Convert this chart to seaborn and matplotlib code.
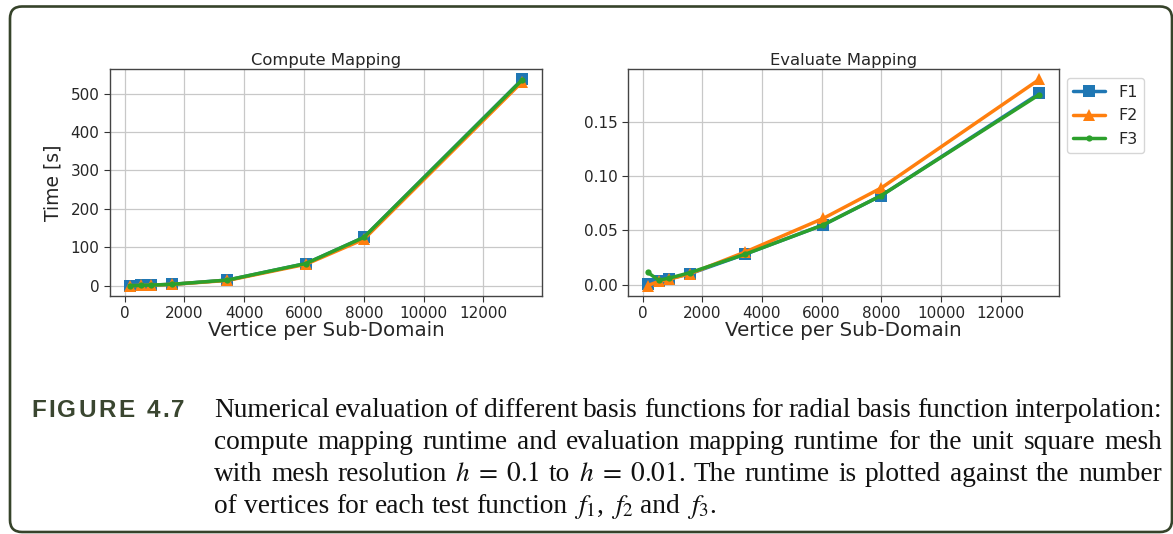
import numpy as np
import pandas as pd
import matplotlib
matplotlib.use("Agg")
import matplotlib.pyplot as plt
from matplotlib.patches import FancyBboxPatch
from matplotlib.transforms import IdentityTransform
import seaborn as sns

# ---- data ----
vertices = [169, 540, 900, 1590, 3440, 6060, 8000, 13300]
series = ["F1", "F2", "F3"]
compute_f1 = [0.5, 1.0, 2.0, 4.0, 15.0, 58.0, 126.0, 537.0]
compute_f2 = [0.4, 0.9, 1.8, 3.8, 14.0, 56.0, 121.0, 531.0]
compute_f3 = [0.5, 1.0, 2.0, 4.0, 15.0, 58.0, 126.0, 536.0]
eval_f1 = [0.0005, 0.0037, 0.0055, 0.0100, 0.0280, 0.0550, 0.0820, 0.1760]
eval_f2 = [-0.0010, 0.0030, 0.0050, 0.0100, 0.0300, 0.0610, 0.0890, 0.1890]
eval_f3 = [0.0114, 0.0040, 0.0060, 0.0110, 0.0280, 0.0550, 0.0820, 0.1750]

titles = ["Compute Mapping", "Evaluate Mapping"]
xlabel = "Vertice per Sub-Domain"
ylabel = "Time [s]"
caption_head = "FIGURE 4.7"
caption_lines = [
    r"Numerical evaluation of different basis functions for radial basis function interpolation:",
    r"compute mapping runtime and evaluation mapping runtime for the unit square mesh",
    r"with mesh resolution $h\;=\;0.1$ to $h\;=\;0.01$. The runtime is plotted against the number",
    r"of vertices for each test function $f_1$, $f_2$ and $f_3$.",
]

def long_df(a, b, c):
    rows = []
    for name, vals in zip(series, [a, b, c]):
        for x, y in zip(vertices, vals):
            rows.append({"x": x, "y": y, "series": name})
    return pd.DataFrame(rows)

df_c = long_df(compute_f1, compute_f2, compute_f3)
df_e = long_df(eval_f1, eval_f2, eval_f3)

sns.set_style("ticks")
plt.rcParams["font.family"] = ["DejaVu Sans"]
plt.rcParams["mathtext.fontset"] = "stix"

W, H = 1173, 534
fig = plt.figure(figsize=(W / 100, H / 100), dpi=100)

def px_axes(x0, y0, x1, y1):
    return fig.add_axes([x0 / W, 1 - y1 / H, (x1 - x0) / W, (y1 - y0) / H])

ax1 = px_axes(110, 69, 542, 296)
ax2 = px_axes(628, 69, 1059, 296)

palette = {"F1": "#1f77b4", "F2": "#ff7f0e", "F3": "#2ca02c"}
markers = {"F1": "s", "F2": "^", "F3": "o"}

for ax, df, title in [(ax1, df_c, titles[0]), (ax2, df_e, titles[1])]:
    for name in series:
        sub = df[df["series"] == name]
        ms = 8 if name != "F3" else 4.5
        sns.lineplot(data=sub, x="x", y="y", ax=ax, color=palette[name],
                     marker=markers[name], markersize=ms, markeredgewidth=0,
                     linewidth=2.5, label=name, legend=False, sort=False)
    ax.set_title(title, fontsize=11.8, pad=3)
    ax.set_xlabel(xlabel, fontsize=14.3, labelpad=0)
    ax.set_ylabel("")
    ax.grid(True, color="#c8c8c8", linewidth=0.9)
    ax.set_axisbelow(True)
    ax.tick_params(labelsize=11, length=4, color="#333333")
    ax.set_xticks([0, 2000, 4000, 6000, 8000, 10000, 12000])
    for s in ax.spines.values():
        s.set_color("#444444")
        s.set_linewidth(1.0)

ax1.set_yticks([0, 100, 200, 300, 400, 500])
ax1.set_ylabel(ylabel, fontsize=13.5, labelpad=6)
ax2.set_yticks([0.0, 0.05, 0.10, 0.15])
ax2.yaxis.set_major_formatter(matplotlib.ticker.FormatStrFormatter("%.2f"))

handles, labels = ax2.get_legend_handles_labels()
ax2.legend(handles, labels, loc="upper left", bbox_to_anchor=(1.0, 0.995),
           fontsize=11.5, frameon=True, handlelength=2.0, labelspacing=0.55)

# frame (pixel coordinates, origin bottom-left)
frame = FancyBboxPatch((10, H - 532), 1172 - 10, 532 - 6.5,
                       boxstyle="round,pad=0,rounding_size=12",
                       transform=IdentityTransform(), fill=False,
                       edgecolor="#36432a", linewidth=1.9, clip_on=False)
fig.patches.append(frame)

renderer = fig.canvas.get_renderer()

def width_of(t):
    return t.get_window_extent(renderer).width

# caption head with letter spacing
head_x0, head_x1, base_y = 31, 185, 417
head_kw = dict(fontsize=17.5, fontweight="bold", color="#3a4630",
               family="Liberation Sans", va="baseline", ha="left")
chars = list(caption_head)
tmp = [fig.text(0, 0, c, **head_kw) for c in chars]
widths = []
for c, t in zip(chars, tmp):
    if c == " ":
        a = fig.text(0, 0, "F F", **head_kw); b = fig.text(0, 0, "FF", **head_kw)
        widths.append(width_of(a) - width_of(b)); a.remove(); b.remove()
    else:
        widths.append(width_of(t))
    t.remove()
gap = (head_x1 - head_x0 - sum(widths)) / (len(chars) - 1)
x = head_x0
for c, w in zip(chars, widths):
    if c != " ":
        fig.text(x / W, 1 - base_y / H, c, **head_kw)
    x += w + gap

# justified caption body
body_kw = dict(fontsize=19.7, family="Liberation Serif", color="#111111",
               va="baseline", ha="left")
left, right = 214, 1162
space_w = 0.25 * body_kw["fontsize"] * 100 / 72
for i, line in enumerate(caption_lines):
    y = base_y + 32 * i
    words = line.split(" ")
    ts = [fig.text(0, 0, w, **body_kw) for w in words]
    ws = [width_of(t) for t in ts]
    for t in ts:
        t.remove()
    if i < len(caption_lines) - 1:
        sp = (right - left - sum(ws)) / (len(words) - 1)
    else:
        sp = space_w
    x = left
    for w_txt, w in zip(words, ws):
        fig.text(x / W, 1 - y / H, w_txt, **body_kw)
        x += w + sp

fig.savefig("out.png", dpi=100)
